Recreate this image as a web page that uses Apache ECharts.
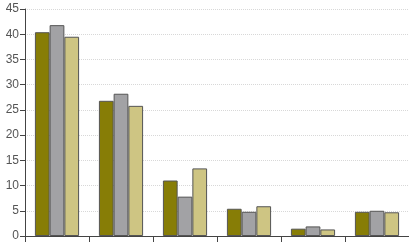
<!DOCTYPE html>
<html><head><meta charset="utf-8">
<script src="https://cdn.jsdelivr.net/npm/echarts@6/dist/echarts.min.js"></script>
<style>html,body{margin:0;padding:0;background:#fff}#c{width:409px;height:245px}</style>
</head><body><div id="c"></div>
<script>
var categories = ['1','2','3','4','5','6'];
var seriesA = [40.4, 26.8, 11.0, 5.4, 1.45, 4.8];
var seriesB = [41.8, 28.2, 7.8, 4.8, 1.9, 5.0];
var seriesC = [39.5, 25.8, 13.4, 5.9, 1.3, 4.7];
var yTicks = [0,5,10,15,20,25,30,35,40,45];

var chart = echarts.init(document.getElementById('c'), null, {renderer:'canvas'});
var border = {borderColor:'#555', borderWidth:1};
chart.setOption({
  animation:false,
  grid:{left:25, right:0, top:9, bottom:9, containLabel:false},
  xAxis:{type:'category', data:categories,
    axisLine:{lineStyle:{color:'#444', width:1}},
    axisTick:{show:true, length:6, lineStyle:{color:'#444'}},
    axisLabel:{show:false}},
  yAxis:{type:'value', min:0, max:45, interval:5,
    axisLine:{show:true, lineStyle:{color:'#444', width:1}},
    axisTick:{show:true, length:5, lineStyle:{color:'#444'}},
    axisLabel:{color:'#555', fontSize:12, margin:6, fontFamily:'Liberation Sans Narrow, Arial Narrow, sans-serif',
      formatter:function(v){return yTicks.indexOf(v) >= 0 ? String(v) : '';}},
    splitLine:{show:true, lineStyle:{color:'#d8d8d8', type:'dotted', width:1}}},
  series:[
    {type:'bar', data:seriesA, barGap:'0%', barCategoryGap:'31%', itemStyle:Object.assign({color:'#877d06'}, border)},
    {type:'bar', data:seriesB, itemStyle:Object.assign({color:'#a2a2a5'}, border)},
    {type:'bar', data:seriesC, itemStyle:Object.assign({color:'#cec583'}, border)}
  ]
});
</script></body></html>
